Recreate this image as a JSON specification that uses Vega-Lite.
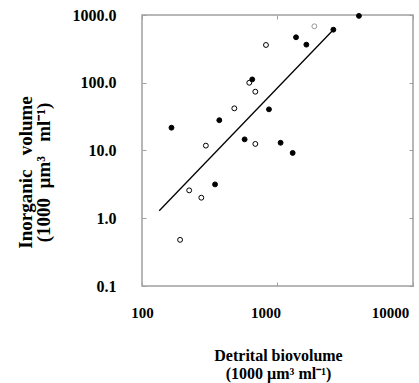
{
  "$schema": "https://vega.github.io/schema/vega-lite/v6.json",
  "autosize": "none",
  "width": 271,
  "height": 271,
  "padding": {"left": 142, "top": 15, "right": 6, "bottom": 97},
  "background": "white",
  "config": {
    "view": {"stroke": "#a0a0a0", "strokeWidth": 1.5},
    "font": "Liberation Serif"
  },
  "datasets": {
    "pts": [
      {"detrital": 165, "inorganic": 21.7, "type": "filled"},
      {"detrital": 372, "inorganic": 28, "type": "filled"},
      {"detrital": 296, "inorganic": 11.8, "type": "open"},
      {"detrital": 572, "inorganic": 14.6, "type": "filled"},
      {"detrital": 686, "inorganic": 12.5, "type": "open"},
      {"detrital": 480, "inorganic": 41.9, "type": "open"},
      {"detrital": 619, "inorganic": 100, "type": "open"},
      {"detrital": 651, "inorganic": 112, "type": "filled"},
      {"detrital": 686, "inorganic": 73.8, "type": "open"},
      {"detrital": 865, "inorganic": 40.5, "type": "filled"},
      {"detrital": 822, "inorganic": 361, "type": "open"},
      {"detrital": 1054, "inorganic": 13, "type": "filled"},
      {"detrital": 1294, "inorganic": 9.2, "type": "filled"},
      {"detrital": 1370, "inorganic": 469, "type": "filled"},
      {"detrital": 1633, "inorganic": 365, "type": "filled"},
      {"detrital": 1871, "inorganic": 681, "type": "open gray"},
      {"detrital": 2584, "inorganic": 607, "type": "filled"},
      {"detrital": 3990, "inorganic": 970, "type": "filled"},
      {"detrital": 223, "inorganic": 2.58, "type": "open"},
      {"detrital": 274, "inorganic": 2.01, "type": "open"},
      {"detrital": 346, "inorganic": 3.16, "type": "filled"},
      {"detrital": 191, "inorganic": 0.48, "type": "open"}
    ],
    "fit": [
      {"detrital": 134, "inorganic": 1.29},
      {"detrital": 2584, "inorganic": 607}
    ]
  },
  "resolve": {"axis": {"x": "independent", "y": "independent"}},
  "layer": [
    {
      "data": {"name": "fit"},
      "mark": {"type": "line", "color": "black", "strokeWidth": 1.3},
      "encoding": {
        "x": {"field": "detrital", "type": "quantitative",
          "scale": {"type": "log", "domain": [100, 10000], "nice": false},
          "axis": {"orient": "top", "values": [100, 1000, 10000], "labels": false, "title": null, "domain": false, "grid": false, "tickSize": -4, "tickColor": "#a0a0a0"}},
        "y": {"field": "inorganic", "type": "quantitative",
          "scale": {"type": "log", "domain": [0.1, 1000], "nice": false},
          "axis": {"orient": "right", "values": [0.1, 1, 10, 100, 1000], "labels": false, "title": null, "domain": false, "grid": false, "tickSize": -4, "tickColor": "#a0a0a0"}}
      }
    },
    {
      "data": {"name": "pts"},
      "mark": {"type": "point", "shape": "circle", "size": 24, "strokeWidth": 1, "opacity": 1},
      "encoding": {
        "x": {"field": "detrital", "type": "quantitative",
          "scale": {"type": "log", "domain": [100, 10000], "nice": false},
          "axis": {"orient": "bottom", "values": [100, 1000, 10000], "format": "d", "domain": false, "grid": false, "tickSize": -4, "tickColor": "#a0a0a0",
            "labelFont": "Liberation Serif", "labelFontWeight": "bold", "labelFontSize": 15, "labelColor": "black", "labelPadding": 23, "labelFlush": false,
            "labelOffset": {"condition": [{"test": "datum.value >= 10000", "value": -23}, {"test": "datum.value >= 1000", "value": -12}], "value": 0},
            "title": ["Detrital biovolume", "(1000 µm³ ml⁻¹)"], "titleFont": "Liberation Serif", "titleFontWeight": "bold", "titleFontSize": 16, "titleColor": "black",
            "titleLineHeight": 18, "titleBaseline": "top", "titleY": 61, "titleX": 136, "titleAlign": "center"}},
        "y": {"field": "inorganic", "type": "quantitative",
          "scale": {"type": "log", "domain": [0.1, 1000], "nice": false},
          "axis": {"orient": "left", "values": [0.1, 1, 10, 100, 1000], "format": ".1f", "domain": false, "grid": false, "tickSize": -4, "tickColor": "#a0a0a0",
            "labelFont": "Liberation Serif", "labelFontWeight": "bold", "labelFontSize": 16, "labelColor": "black", "labelPadding": 30, "labelFlush": false,
            "title": ["Inorganic\u00a0\u00a0\u00a0volume", "(1000\u00a0\u00a0µm³\u00a0\u00a0\u00a0ml⁻¹)"], "titleFont": "Liberation Serif", "titleFontWeight": "bold", "titleFontSize": 19, "titleColor": "black",
            "titleLineHeight": 18, "titleAngle": -90, "titleBaseline": "top", "titleX": -126, "titleY": 157, "titleAlign": "center"}},
        "fill": {"field": "type", "type": "nominal", "scale": {"domain": ["filled", "open", "open gray"], "range": ["black", "white", "white"]}, "legend": null},
        "stroke": {"field": "type", "type": "nominal", "scale": {"domain": ["filled", "open", "open gray"], "range": ["black", "black", "#999999"]}, "legend": null}
      }
    }
  ]
}
